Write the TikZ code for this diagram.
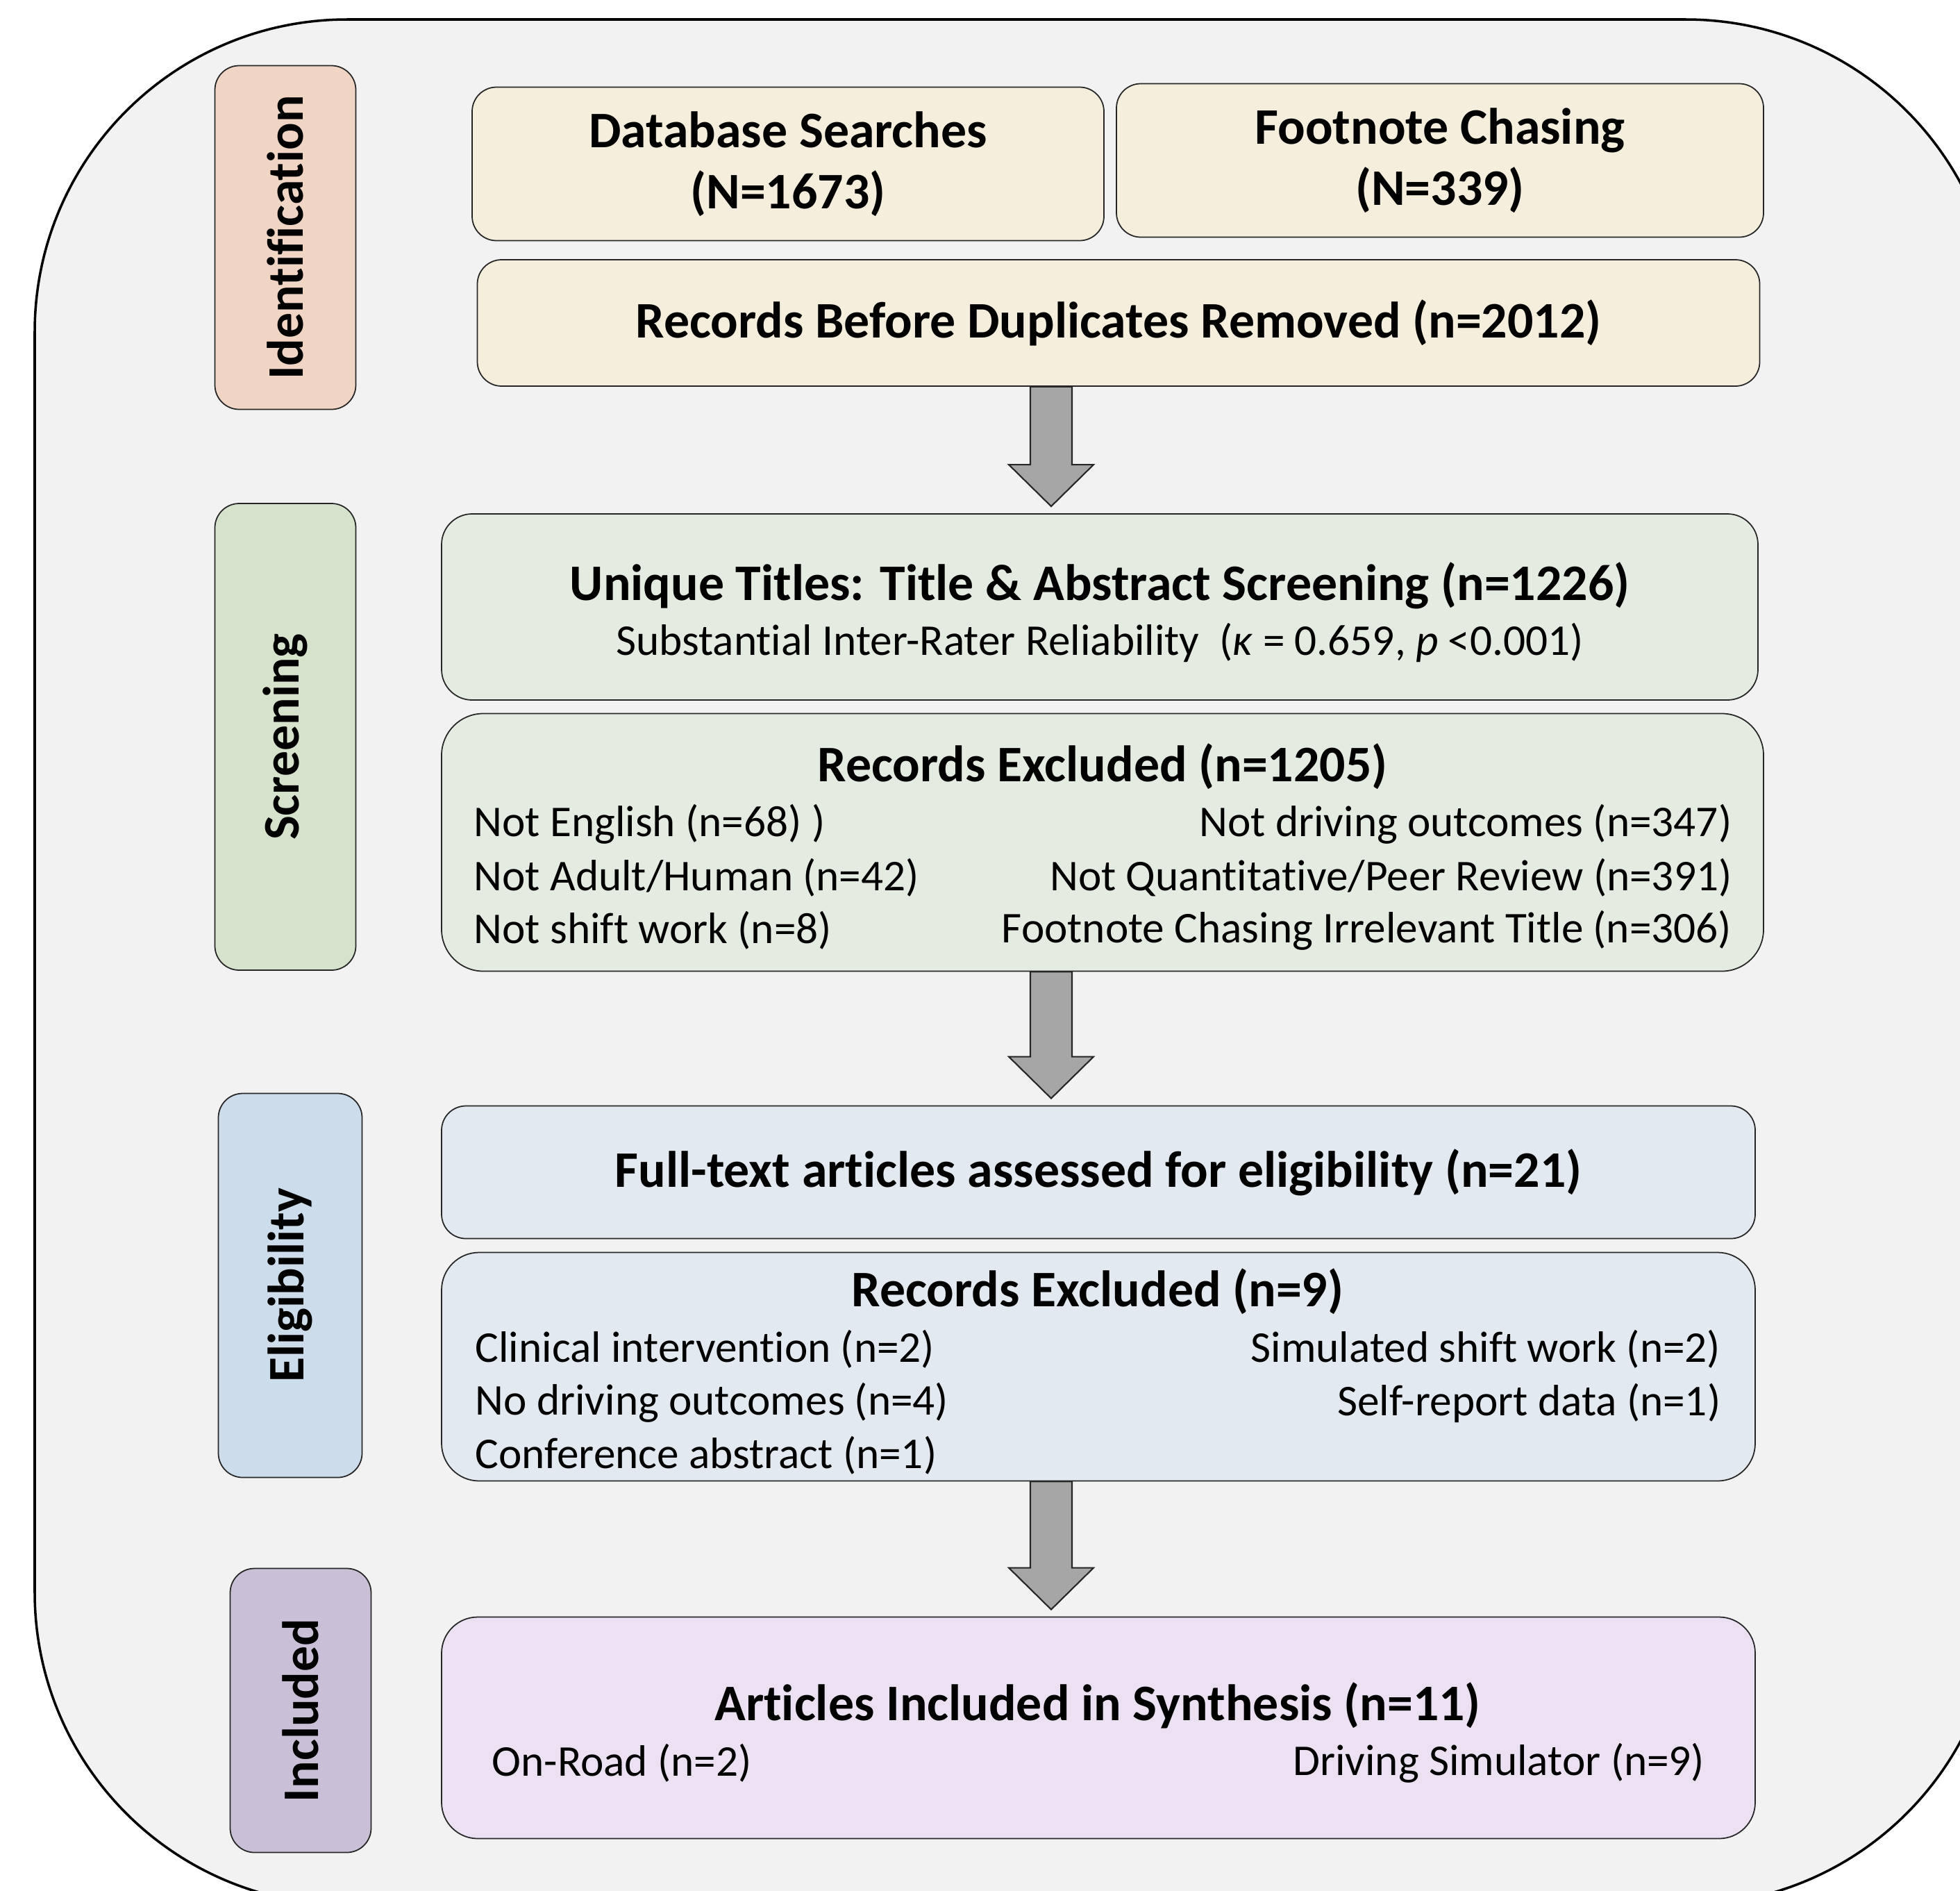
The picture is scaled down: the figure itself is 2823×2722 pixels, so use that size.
\documentclass[tikz,border=0pt]{standalone}
\usepackage{fontspec}
\setmainfont{Carlito}[Ligatures={NoCommon,NoRare}]
\usetikzlibrary{calc}

\definecolor{framefill}{HTML}{F2F2F2}
\definecolor{identfill}{HTML}{F0D5C5}
\definecolor{identbox}{HTML}{F5EEDD}
\definecolor{screenfill}{HTML}{D6E3CC}
\definecolor{screenbox}{HTML}{E4ECE1}
\definecolor{eligfill}{HTML}{CCDCEB}
\definecolor{eligbox}{HTML}{E2E9F0}
\definecolor{inclfill}{HTML}{C9C0D7}
\definecolor{inclbox}{HTML}{ECE1F2}
\definecolor{arrowfill}{HTML}{A6A6A6}

\newcommand{\headfont}{\fontsize{21}{25}\selectfont\bfseries}
\newcommand{\flowarrow}[2]{%
  \draw[bigarrow] ($(#1)+(-30,0)$) -- ($(#2)+(-30,-70)$) -- ($(#2)+(-61,-70)$)
    -- ($(#2)+(0,-10)$) -- ($(#2)+(61,-70)$) -- ($(#2)+(30,-70)$) -- ($(#1)+(30,0)$) -- cycle;}

\begin{document}
\begin{tikzpicture}[x=0.1mm,y=-0.1mm,font=\fontsize{18}{22}\selectfont]
    \tikzset{box/.style={draw=black!85,line width=0.5pt,rounded corners=3.5mm,inner sep=0pt,align=center},
             stage/.style={box,rotate=90,minimum height=20.3mm,font=\headfont},
             head/.style={font=\headfont},
             lefttext/.style={anchor=west,inner sep=0pt},
             righttext/.style={anchor=east,inner sep=0pt},
             bigarrow/.style={fill=arrowfill,draw=black!85,line width=0.6pt}}
    \useasboundingbox (0,0) rectangle (2823,2722);
    \begin{scope}
        \clip (0,0) rectangle (2823,2722);
        \draw[line width=1pt,fill=framefill,rounded corners=45mm] (50,28) rectangle (2878,2743);
    \end{scope}

    \node[stage,fill=identfill,minimum width=49.5mm] (ident) at (411,342) {Identification};
    \node[stage,fill=screenfill,minimum width=67.2mm] (screen) at (411,1061) {Screening};
    \node[stage,fill=eligfill,minimum width=55.3mm,minimum height=20.7mm] (elig) at (418,1851) {Eligibility};
    \node[stage,fill=inclfill,minimum width=40.9mm] (incl) at (433,2463) {Included};

    \node[box,fill=identbox,minimum width=91mm,minimum height=22.1mm,font=\headfont] (db) at (1135,236) {Database Searches\\(N=1673)};
    \node[box,fill=identbox,minimum width=93.2mm,minimum height=22.1mm,font=\headfont] (fn) at (2074,231) {Footnote Chasing\\(N=339)};
    \node[box,fill=identbox,minimum width=184.7mm,minimum height=18.2mm,font=\headfont] (before) at (1611,465) {Records Before Duplicates Removed (n=2012)};
    \node[box,fill=screenbox,minimum width=189.6mm,minimum height=26.8mm,rounded corners=4.4mm] (unique) at (1584,874) {};
    \node[box,fill=screenbox,minimum width=190.4mm,minimum height=37.1mm,rounded corners=6mm] (excl1) at (1588,1213) {};
    \node[box,fill=eligbox,minimum width=189.2mm,minimum height=19.1mm,font=\headfont] (full) at (1582,1688) {Full-text articles assessed for eligibility (n=21)};
    \node[box,fill=eligbox,minimum width=189.2mm,minimum height=32.9mm,rounded corners=5.4mm] (excl2) at (1582,1968) {};
    \node[box,fill=inclbox,minimum width=189.2mm,minimum height=31.9mm,rounded corners=5.2mm] (result) at (1582,2488) {};

    \node[head] (uniquet) at (1584,843) {Unique Titles: Title \& Abstract Screening (n=1226)};
    \node (kappa) at (1584,925) {Substantial Inter-Rater Reliability \ (\textit{κ} = 0.659, \textit{p} <0.001)};

    \node[head] (excl1t) at (1588,1104) {Records Excluded (n=1205)};
    \node[lefttext] (e1a) at (682,1187) {Not English (n=68) )};
    \node[lefttext] (e1b) at (682,1264) {Not Adult/Human (n=42)};
    \node[lefttext] (e1c) at (682,1340) {Not shift work (n=8)};
    \node[righttext] (e1d) at (2495,1187) {Not driving outcomes (n=347)};
    \node[righttext] (e1e) at (2495,1264) {Not Quantitative/Peer Review (n=391)};
    \node[righttext] (e1f) at (2495,1340) {Footnote Chasing Irrelevant Title (n=306)};

    \node[head] (excl2t) at (1581,1860) {Records Excluded (n=9)};
    \node[lefttext] (e2a) at (684,1943) {Clinical intervention (n=2)};
    \node[lefttext] (e2b) at (684,2020) {No driving outcomes (n=4)};
    \node[lefttext] (e2c) at (684,2096) {Conference abstract (n=1)};
    \node[righttext] (e2d) at (2479,1943) {Simulated shift work (n=2)};
    \node[righttext] (e2e) at (2479,2020) {Self-report data (n=1)};

    \node[head] (resultt) at (1581,2456) {Articles Included in Synthesis (n=11)};
    \node[lefttext] (r1) at (708,2539) {On-Road (n=2)};
    \node[righttext] (r2) at (2456,2539) {Driving Simulator (n=9)};

    \coordinate (arrx) at (1514,0);
    \flowarrow{before.south -| arrx}{unique.north -| arrx}
    \flowarrow{excl1.south -| arrx}{full.north -| arrx}
    \flowarrow{excl2.south -| arrx}{result.north -| arrx}
\end{tikzpicture}
\end{document}
